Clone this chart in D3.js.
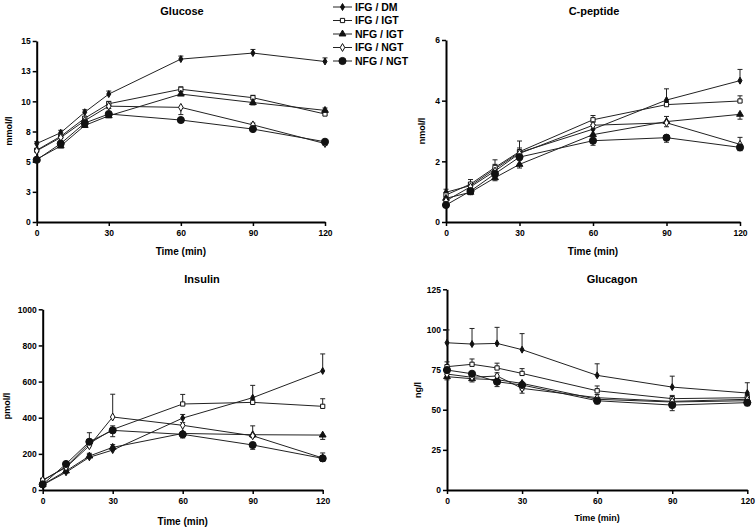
<!DOCTYPE html>
<html>
<head>
<meta charset="utf-8">
<script src="https://cdn.jsdelivr.net/npm/d3@7/dist/d3.min.js"></script>
<style>
  html, body { margin: 0; padding: 0; background: #fff; }
  svg { display: block; font-family: "Liberation Sans", Arial, sans-serif; font-weight: bold; }
</style>
</head>
<body>
<svg id="chart" width="756" height="528"></svg>
<script>
// ---------- DATA ----------
const times = [0, 10, 20, 30, 60, 90, 120];
const xTicks = [0, 30, 60, 90, 120];
const seriesNames = ["IFG / DM", "IFG / IGT", "NFG / IGT", "IFG / NGT", "NFG / NGT"];

// Glucose (mmol/l) — rows follow seriesNames
const glucoseMean = [
  [6.5, 7.4, 9.1, 10.6, 13.5, 14.0, 13.3],
  [5.95, 7.1, 8.6, 9.8, 11.0, 10.3, 8.95],
  [5.2, 6.3, 8.0, 8.8, 10.6, 9.9, 9.25],
  [5.9, 7.0, 8.4, 9.6, 9.5, 8.05, 6.5],
  [5.15, 6.5, 8.2, 8.95, 8.45, 7.7, 6.65]
];
const glucoseErr = [
  [0.15, 0.2, 0.2, 0.25, 0.25, 0.3, 0.3],
  [0.1, 0.15, 0.15, 0.2, 0.2, 0.2, 0.2],
  [-0.1, -0.15, -0.15, -0.15, 0.2, -0.2, 0.2],
  [0.1, 0.1, 0.1, -0.2, -0.6, 0.15, -0.15],
  [-0.1, -0.1, -0.1, -0.1, -0.15, -0.1, -0.1]
];
const glucoseTicks = [0, 2.5, 5, 7.5, 10, 12.5, 15];
const glucoseTickLabels = ["0", "3", "5", "8", "10", "13", "15"];

// C-peptide (nmol/l)
const cpepMean = [
  [0.98, 1.2, 1.75, 2.29, 3.06, 4.02, 4.66],
  [0.89, 1.25, 1.8, 2.32, 3.37, 3.87, 3.99],
  [0.78, 0.98, 1.46, 1.9, 2.88, 3.31, 3.55],
  [0.7, 1.16, 1.68, 2.26, 3.19, 3.27, 2.56],
  [0.56, 1.02, 1.59, 2.14, 2.68, 2.78, 2.46]
];
const cpepErr = [
  [0.1, 0.1, 0.15, 0.15, 0.15, 0.37, 0.37],
  [0.08, 0.15, 0.25, 0.35, 0.14, 0.1, 0.17],
  [-0.1, -0.08, -0.1, -0.12, -0.12, 0.17, -0.16],
  [0.1, 0.1, 0.1, 0.1, 0.1, -0.13, 0.23],
  [-0.08, -0.08, -0.1, -0.1, -0.15, -0.15, -0.11]
];
const cpepTicks = [0, 2, 4, 6];

// Insulin (pmol/l)
const insulinMean = [
  [28, 98, 181, 221, 398, 511, 659],
  [52, 129, 258, 335, 476, 485, 463],
  [30, 105, 188, 236, 313, 306, 304],
  [55, 125, 245, 404, 358, 300, 177],
  [31, 144, 267, 330, 308, 249, 175]
];
const insulinErr = [
  [10, 10, 15, 15, 20, 68, 94],
  [10, 15, 20, 20, 53, 15, 42],
  [10, 10, 15, 15, -15, -15, -24],
  [10, 15, 20, 126, 15, 55, 28],
  [-10, -10, 50, -35, -20, -24, -16]
];
const insulinTicks = [0, 200, 400, 600, 800, 1000];

// Glucagon (ng/l)
const glucagonMean = [
  [91.7, 90.9, 91.3, 87.4, 71.4, 64.1, 60.4],
  [76.8, 78.3, 76.0, 72.6, 61.8, 56.9, 57.5],
  [70.6, 69.3, 68.7, 66.4, 56.5, 54.8, 55.6],
  [72.2, 70.2, 71.0, 63.3, 57.5, 55.2, 56.5],
  [74.7, 72.4, 67.4, 65.4, 55.6, 52.9, 54.4]
];
const glucagonErr = [
  [8, 9.7, 10, 10, 7.2, 6.8, 6.4],
  [3, 3.3, 3, 3, 3, 2, 2],
  [-2, -2, -2, -2, -2, -2, -2],
  [2, 2, 2, -3, 2, 2, 2],
  [-3, -3, -3, -3, -2, -3.5, -2]
];
const glucagonTicks = [0, 25, 50, 75, 100, 125];

// ---------- STYLE ----------
const markerDefs = [
  { type: d3.symbolDiamond, size: 14, fill: "#111" },
  { type: d3.symbolSquare, size: 18, fill: "#fff" },
  { type: d3.symbolTriangle, size: 20, fill: "#111" },
  { type: d3.symbolDiamond, size: 18, fill: "#fff" },
  { type: d3.symbolCircle, size: 40, fill: "#111" }
];
const lineColor = "#222";

const svg = d3.select("#chart");

function drawPanel(p) {
  const x = d3.scaleLinear().domain([0, 120]).range([p.x0, p.x1]);
  const y = d3.scaleLinear().domain([0, p.yMax]).range([p.yb, p.yt]);
  const g = svg.append("g");

  // axes
  const ya = d3.axisLeft(y).tickValues(p.yTicks).tickSize(4).tickSizeOuter(0)
    .tickFormat((d, i) => p.yLabels ? p.yLabels[i] : d3.format("d")(d));
  const yg = g.append("g").attr("transform", `translate(${p.x0},0)`).call(ya);
  const xa = d3.axisBottom(x).tickValues(xTicks).tickSize(4).tickSizeOuter(0);
  const xg = g.append("g").attr("transform", `translate(0,${p.yb})`).call(xa);
  [yg, xg].forEach(a => {
    a.select(".domain").attr("stroke", "#000").attr("stroke-width", 2);
    a.selectAll(".tick line").attr("stroke", "#000").attr("stroke-width", 1.5);
    a.selectAll(".tick text").attr("font-size", 8.5).attr("font-weight", "bold")
      .attr("font-family", "Liberation Sans, Arial, sans-serif").attr("fill", "#000");
  });
  yg.selectAll(".tick text").attr("x", -6);
  xg.selectAll(".tick text").attr("y", 8);

  // titles
  g.append("text").attr("x", p.titleX).attr("y", p.titleY).attr("text-anchor", "middle")
    .attr("font-size", 11).text(p.title);
  g.append("text").attr("x", (p.x0 + p.x1) / 2).attr("y", p.xTitleY).attr("text-anchor", "middle")
    .attr("font-size", p.xTitleSize).text("Time (min)");
  g.append("text").attr("transform", `translate(${p.yTitleX},${p.yTitleY}) rotate(-90)`)
    .attr("text-anchor", "middle").attr("font-size", 9).text(p.yTitle);

  // error bars
  p.mean.forEach((s, si) => {
    s.forEach((v, i) => {
      const e = p.err[si][i];
      const cx = x(times[i]);
      const y1 = y(v), y2 = y(v + e);
      g.append("line").attr("x1", cx).attr("x2", cx).attr("y1", y1).attr("y2", y2)
        .attr("stroke", lineColor).attr("stroke-width", 1);
      g.append("line").attr("x1", cx - 2.5).attr("x2", cx + 2.5).attr("y1", y2).attr("y2", y2)
        .attr("stroke", lineColor).attr("stroke-width", 1);
    });
  });

  // lines
  const line = d3.line().x((d, i) => x(times[i])).y(d => y(d));
  p.mean.forEach(s => {
    g.append("path").attr("d", line(s)).attr("fill", "none")
      .attr("stroke", lineColor).attr("stroke-width", 1);
  });

  // markers
  p.mean.forEach((s, si) => {
    const m = markerDefs[si];
    g.selectAll(null).data(s).enter().append("path")
      .attr("d", d3.symbol().type(m.type).size(m.size))
      .attr("transform", (d, i) => `translate(${x(times[i])},${y(d)})`)
      .attr("fill", m.fill).attr("stroke", "#111").attr("stroke-width", 1);
  });
}

drawPanel({ title: "Glucose", mean: glucoseMean, err: glucoseErr, yMax: 15,
  yTicks: glucoseTicks, yLabels: glucoseTickLabels, yTitle: "mmol/l",
  x0: 36.7, x1: 325, yt: 41, yb: 222, titleX: 182, titleY: 15,
  xTitleY: 255, xTitleSize: 10, yTitleX: 12, yTitleY: 131 });

drawPanel({ title: "C-peptide", mean: cpepMean, err: cpepErr, yMax: 6,
  yTicks: cpepTicks, yTitle: "nmol/l",
  x0: 446, x1: 740, yt: 40, yb: 222, titleX: 594, titleY: 15,
  xTitleY: 255, xTitleSize: 10, yTitleX: 425, yTitleY: 131 });

drawPanel({ title: "Insulin", mean: insulinMean, err: insulinErr, yMax: 1000,
  yTicks: insulinTicks, yTitle: "pmol/l",
  x0: 42.7, x1: 322.7, yt: 309.3, yb: 490, titleX: 202, titleY: 283,
  xTitleY: 525, xTitleSize: 10, yTitleX: 10, yTitleY: 406 });

drawPanel({ title: "Glucagon", mean: glucagonMean, err: glucagonErr, yMax: 125,
  yTicks: glucagonTicks, yTitle: "ng/l",
  x0: 447, x1: 747.3, yt: 289.3, yb: 490, titleX: 612, titleY: 283,
  xTitleY: 521, xTitleSize: 9, yTitleX: 421, yTitleY: 390 });

// legend
const leg = svg.append("g");
seriesNames.forEach((name, i) => {
  const yy = 7 + i * 13.5;
  leg.append("line").attr("x1", 333).attr("x2", 352).attr("y1", yy).attr("y2", yy)
    .attr("stroke", lineColor).attr("stroke-width", 1);
  const m = markerDefs[i];
  leg.append("path").attr("d", d3.symbol().type(m.type).size(m.size))
    .attr("transform", `translate(342.5,${yy})`)
    .attr("fill", m.fill).attr("stroke", "#111").attr("stroke-width", 1);
  leg.append("text").attr("x", 355).attr("y", yy + 3.8).attr("font-size", 10.5).text(name);
});
</script>
</body>
</html>
